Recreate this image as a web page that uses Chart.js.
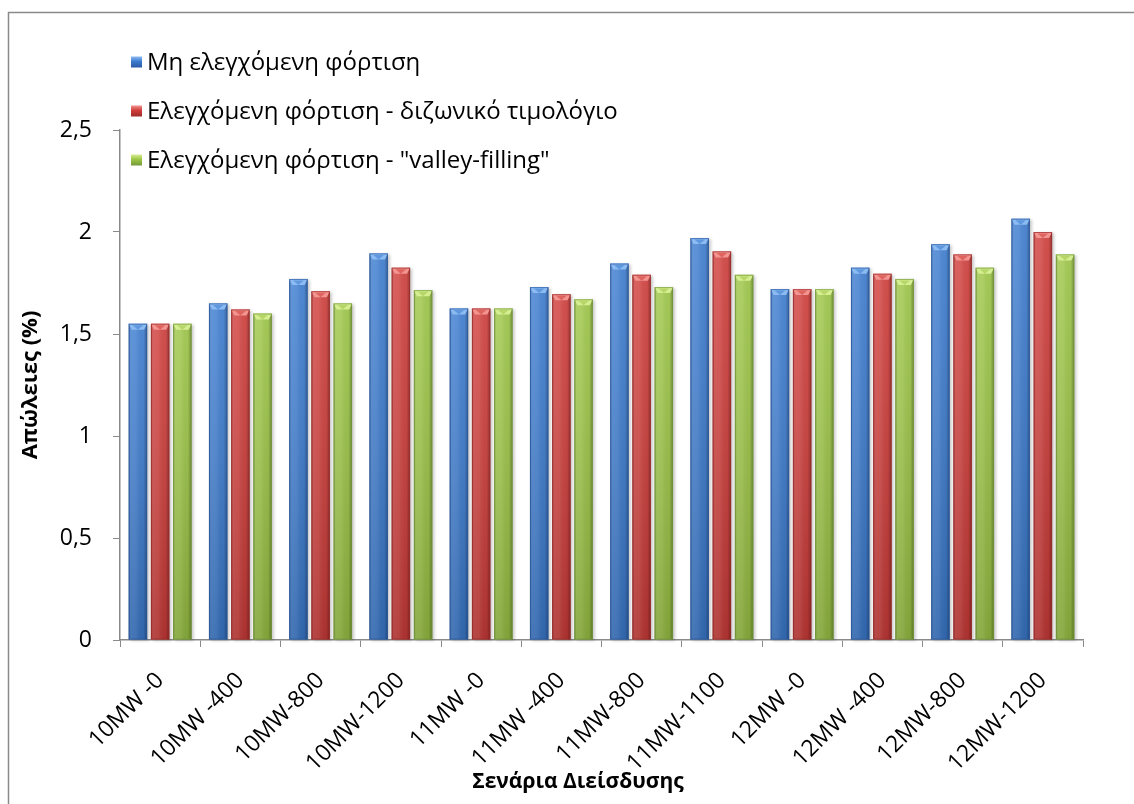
<!DOCTYPE html>
<html>
<head>
<meta charset="utf-8">
<script src="https://cdn.jsdelivr.net/npm/chart.js@4.4.0/dist/chart.umd.min.js"></script>
<style>
  html, body { margin: 0; padding: 0; background: #ffffff; }
  #wrap { width: 1134px; height: 804px; position: relative; }
</style>
</head>
<body>
<div id="wrap"><canvas id="chart" width="1134" height="804"></canvas></div>
<script>
// Penetration scenarios (x categories)
const categories = ['10MW -0', '10MW -400', '10MW-800', '10MW-1200',
                    '11MW -0', '11MW -400', '11MW-800', '11MW-1100',
                    '12MW -0', '12MW -400', '12MW-800', '12MW-1200'];

// Losses (%) per charging strategy
const uncontrolled  = [1.55, 1.65, 1.77, 1.895, 1.625, 1.73, 1.845, 1.97, 1.72, 1.825, 1.94, 2.065];
const twoZoneTariff = [1.55, 1.62, 1.71, 1.825, 1.625, 1.695, 1.79, 1.905, 1.72, 1.795, 1.89, 2.0];
const valleyFilling = [1.55, 1.60, 1.65, 1.715, 1.625, 1.67, 1.73, 1.79, 1.72, 1.77, 1.825, 1.89];

const seriesNames = ['Μη ελεγχόμενη φόρτιση',
                     'Ελεγχόμενη φόρτιση - διζωνικό τιμολόγιο',
                     'Ελεγχόμενη φόρτιση - "valley-filling"'];

const yTicks = [0, 0.5, 1, 1.5, 2, 2.5];

const xTitle = 'Σενάρια Διείσδυσης';
const yTitle = 'Απώλειες (%)';

// base / light / dark shades for each series
const palette = [
  { base: '#3B7BCF', light: '#8CBBF2', dark: '#2A5AA3' },
  { base: '#CF3C39', light: '#F29490', dark: '#9E2B29' },
  { base: '#9CC545', light: '#D6EE92', dark: '#74993A' }
];

const FONT = '"Open Sans", "Noto Sans", "DejaVu Sans", sans-serif';

// white background + grey frame along the left and top edges
const framePlugin = {
  id: 'frame',
  beforeDraw(chart) {
    const ctx = chart.ctx;
    ctx.save();
    ctx.fillStyle = '#ffffff';
    ctx.fillRect(0, 0, chart.width, chart.height);
    ctx.strokeStyle = '#8a8a8a';
    ctx.lineWidth = 1.5;
    ctx.beginPath();
    ctx.moveTo(8.5, chart.height);
    ctx.lineTo(8.5, 12.5);
    ctx.lineTo(chart.width, 12.5);
    ctx.stroke();
    ctx.restore();
  }
};

function barRects(chart) {
  const out = [];
  chart.data.datasets.forEach((ds, di) => {
    const meta = chart.getDatasetMeta(di);
    meta.data.forEach(el => {
      const p = el.getProps(['x', 'y', 'base', 'width'], true);
      out.push({ di, left: p.x - p.width / 2, top: p.y, w: p.width, h: p.base - p.y });
    });
  });
  return out;
}

// soft drop shadow behind bars and a glossy, bevelled finish on top of them
const barShadePlugin = {
  id: 'barShade',
  beforeDatasetsDraw(chart) {
    const ctx = chart.ctx;
    ctx.save();
    ctx.filter = 'blur(1.5px)';
    ctx.fillStyle = 'rgba(0,0,0,0.22)';
    barRects(chart).forEach(r => ctx.fillRect(r.left + 2, r.top + 1, r.w, r.h));
    ctx.restore();
  },
  afterDatasetsDraw(chart) {
    const ctx = chart.ctx;
    ctx.save();
    barRects(chart).forEach(r => {
      const c = palette[r.di];
      // vertical darkening towards the base
      const gv = ctx.createLinearGradient(0, r.top, 0, r.top + r.h);
      gv.addColorStop(0, 'rgba(255,255,255,0.10)');
      gv.addColorStop(1, 'rgba(0,0,0,0.16)');
      ctx.fillStyle = gv;
      ctx.fillRect(r.left, r.top, r.w, r.h);
      // cylindrical shading across the bar
      const gh = ctx.createLinearGradient(r.left, 0, r.left + r.w, 0);
      gh.addColorStop(0, 'rgba(0,0,0,0.28)');
      gh.addColorStop(0.12, 'rgba(255,255,255,0.10)');
      gh.addColorStop(0.40, 'rgba(255,255,255,0.08)');
      gh.addColorStop(0.80, 'rgba(0,0,0,0.02)');
      gh.addColorStop(1, 'rgba(0,0,0,0.30)');
      ctx.fillStyle = gh;
      ctx.fillRect(r.left, r.top, r.w, r.h);
      // bevelled cap
      const cap = Math.min(6, r.h);
      ctx.fillStyle = c.light;
      ctx.beginPath();
      ctx.moveTo(r.left, r.top);
      ctx.lineTo(r.left + r.w, r.top);
      ctx.lineTo(r.left + r.w - 3, r.top + cap);
      ctx.lineTo(r.left + 3, r.top + cap);
      ctx.closePath();
      ctx.fill();
      ctx.fillStyle = c.base;
      ctx.beginPath();
      ctx.moveTo(r.left + 4, r.top + 1.5);
      ctx.lineTo(r.left + r.w - 4, r.top + 1.5);
      ctx.lineTo(r.left + r.w / 2, r.top + cap);
      ctx.closePath();
      ctx.globalAlpha = 0.55;
      ctx.fill();
      ctx.globalAlpha = 1;
      // thin outline
      ctx.strokeStyle = c.dark;
      ctx.globalAlpha = 0.7;
      ctx.lineWidth = 1;
      ctx.strokeRect(r.left + 0.5, r.top + 0.5, r.w - 1, r.h - 1);
      ctx.globalAlpha = 1;
    });
    ctx.restore();
  }
};

// vertical legend in the upper-left corner and the category-axis title
const annotationsPlugin = {
  id: 'annotations',
  afterDraw(chart) {
    const ctx = chart.ctx;
    ctx.save();
    ctx.font = '24px ' + FONT;
    ctx.textBaseline = 'middle';
    ctx.textAlign = 'left';
    chart.data.datasets.forEach((ds, i) => {
      const c = palette[i];
      const cy = 62 + i * 49;
      const g = ctx.createLinearGradient(0, cy - 5.5, 0, cy + 5.5);
      g.addColorStop(0, c.light);
      g.addColorStop(0.45, c.base);
      g.addColorStop(1, c.dark);
      ctx.fillStyle = g;
      ctx.fillRect(131, cy - 5.5, 11, 11);
      ctx.fillStyle = '#000000';
      ctx.fillText(ds.label, 147, cy + 1);
    });
    ctx.font = 'bold 21px ' + FONT;
    ctx.textAlign = 'center';
    ctx.fillText(xTitle, 578, 782);
    ctx.restore();
  }
};

const datasets = [uncontrolled, twoZoneTariff, valleyFilling].map((values, i) => ({
  label: seriesNames[i],
  data: values,
  backgroundColor: palette[i].base,
  borderWidth: 0,
  categoryPercentage: 0.83,
  barPercentage: 0.83
}));

new Chart(document.getElementById('chart'), {
  type: 'bar',
  data: { labels: categories, datasets },
  plugins: [framePlugin, barShadePlugin, annotationsPlugin],
  options: {
    responsive: false,
    animation: false,
    devicePixelRatio: 1,
    layout: { padding: { top: 130, right: 51, bottom: 0, left: 0 } },
    plugins: {
      legend: { display: false },
      tooltip: { enabled: false },
      title: { display: false }
    },
    scales: {
      x: {
        grid: { display: true, drawOnChartArea: false, drawTicks: true, tickLength: 7, color: '#8a8a8a', offset: true },
        border: { display: true, color: '#8a8a8a', width: 1.5 },
        ticks: { color: '#000000', font: { family: FONT, size: 23 }, minRotation: 45, maxRotation: 45, padding: 20, autoSkip: false },
        afterFit(scale) { scale.height = 164; }
      },
      y: {
        min: 0,
        max: 2.5,
        afterBuildTicks(scale) { scale.ticks = yTicks.map(v => ({ value: v })); },
        grid: { display: true, drawOnChartArea: false, drawTicks: true, tickLength: 7, color: '#8a8a8a' },
        border: { display: true, color: '#8a8a8a', width: 1.5 },
        ticks: {
          color: '#000000',
          font: { family: FONT, size: 23 },
          padding: 21,
          callback: v => String(v).replace('.', ',')
        },
        title: { display: true, text: yTitle, color: '#000000', font: { family: FONT, size: 22, weight: 'bold' }, padding: { top: 18, bottom: 0 } },
        afterFit(scale) { scale.width = 120; }
      }
    }
  }
});
</script>
</body>
</html>
